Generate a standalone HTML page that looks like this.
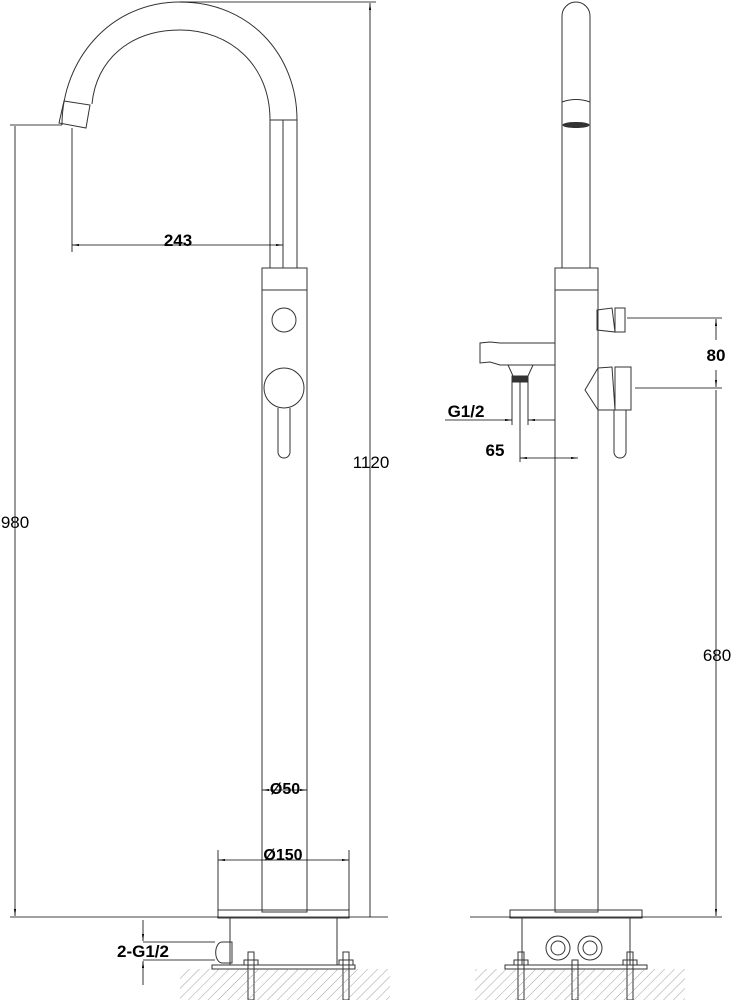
<!DOCTYPE html>
<html><head><style>body{margin:0;background:#fff}svg{display:block}text{font-family:"Liberation Sans",sans-serif;fill:#000}</style></head><body>
<svg width="734" height="1000" viewBox="0 0 734 1000" xmlns="http://www.w3.org/2000/svg">
<defs>
<pattern id="h" width="7" height="7" patternUnits="userSpaceOnUse" patternTransform="rotate(45)"><line x1="0" y1="0" x2="0" y2="7" stroke="#888" stroke-width="0.8"/></pattern>
<marker id="a" viewBox="0 0 10 10" refX="10" refY="5" markerWidth="9" markerHeight="9" orient="auto-start-reverse"><path d="M0,3.5L10,5L0,6.5z" fill="#000"/></marker>
</defs>
<g fill="none" stroke="#333" stroke-width="1">
<path d="M62,125 C62,60 110,2 180,2 C250,2 297,55 297,120"/>
<path d="M92,104 C96,60 130,30 180,30 C230,30 270,65 270,120"/>
<path d="M64,101 L90,105 L86,128 L59,123 Z"/>
<rect x="270" y="120" width="27" height="148"/>
<line x1="283" y1="120" x2="283" y2="268"/>
<rect x="262" y="268" width="45" height="644"/>
<line x1="262" y1="290" x2="307" y2="290"/>
<circle cx="284" cy="320" r="12"/>
<circle cx="284" cy="388" r="20"/>
<path d="M278,408 L278,452 A6,6 0 0 0 290,452 L290,408"/>
<rect x="218" y="910" width="131" height="8"/>
<rect x="230" y="918" width="107" height="47"/>
<path d="M222,942 h10 v21 h-10 a6,10 0 0 1 0,-21z"/>
<rect x="212" y="965" width="143" height="4"/>
<rect x="248" y="952" width="6" height="48"/><rect x="343" y="952" width="6" height="48"/>
<rect x="244" y="960" width="14" height="5"/><rect x="339" y="960" width="14" height="5"/>
<path d="M562,268 L562,16 A14,14 0 0 1 590,16 L590,268"/>
<path d="M562,102 Q576,97 590,102"/>
<ellipse cx="576" cy="125" rx="13" ry="2.5" fill="#333"/>
<rect x="555" y="268" width="43" height="644"/>
<line x1="555" y1="290" x2="598" y2="290"/>
<path d="M597,310 L612,308 L615,332 L597,330 Z"/><rect x="615" y="308" width="10" height="24"/>
<path d="M598,368 L612,367 L615,410 L598,410 L585,390 Z"/><rect x="615" y="367" width="16" height="43"/>
<path d="M614,410 L614,452 A6,6 0 0 0 626,452 L626,410"/>
<path d="M555,343 L500,343 L490,342 L480,343 L480,363 L490,362 L500,365 L555,365"/>
<path d="M508,365 L513,376 L528,376 L533,365"/>
<rect x="512" y="376" width="16" height="6" fill="#333"/>
<line x1="512" y1="382" x2="512" y2="425"/><line x1="528" y1="382" x2="528" y2="425"/><line x1="520" y1="382" x2="520" y2="462"/>
<rect x="510" y="910" width="132" height="8"/>
<rect x="522" y="918" width="108" height="47"/>
<circle cx="558" cy="948" r="12"/><circle cx="558" cy="948" r="7"/>
<circle cx="590" cy="948" r="12"/><circle cx="590" cy="948" r="7"/>
<rect x="505" y="965" width="142" height="4"/>
<rect x="518" y="952" width="6" height="48"/><rect x="572" y="960" width="6" height="40"/><rect x="627" y="952" width="6" height="48"/>
<rect x="514" y="960" width="14" height="5"/><rect x="623" y="960" width="14" height="5"/>
</g>
<rect x="180" y="969" width="210" height="31" fill="url(#h)"/>
<rect x="475" y="969" width="210" height="31" fill="url(#h)"/>
<g stroke="#000" stroke-width="0.8" fill="none">
<line x1="10" y1="917" x2="388" y2="917"/>
<line x1="470" y1="917" x2="722" y2="917"/>
<line x1="180" y1="2" x2="376" y2="2"/>
<line x1="370" y1="917" x2="370" y2="3" marker-end="url(#a)"/>
<line x1="10" y1="125" x2="62" y2="125"/>
<line x1="15" y1="126" x2="15" y2="916" marker-end="url(#a)"/>
<line x1="72" y1="128" x2="72" y2="252"/>
<line x1="72" y1="245" x2="283" y2="245" marker-start="url(#a)" marker-end="url(#a)"/>
<line x1="262" y1="790" x2="307" y2="790" marker-start="url(#a)" marker-end="url(#a)"/>
<line x1="218" y1="850" x2="218" y2="910"/><line x1="349" y1="850" x2="349" y2="910"/>
<line x1="218" y1="860" x2="349" y2="860" marker-start="url(#a)" marker-end="url(#a)"/>
<line x1="143" y1="942" x2="215" y2="942"/><line x1="143" y1="960" x2="215" y2="960"/>
<line x1="143" y1="920" x2="143" y2="941" marker-end="url(#a)"/>
<line x1="143" y1="985" x2="143" y2="961" marker-end="url(#a)"/>
<line x1="627" y1="318" x2="722" y2="318"/><line x1="635" y1="388" x2="722" y2="388"/>
<line x1="716" y1="340" x2="716" y2="319" marker-end="url(#a)"/>
<line x1="716" y1="370" x2="716" y2="387" marker-end="url(#a)"/>
<line x1="716" y1="390" x2="716" y2="916" marker-end="url(#a)"/>
<line x1="445" y1="420" x2="512" y2="420" marker-end="url(#a)"/>
<line x1="528" y1="420" x2="555" y2="420" marker-start="url(#a)"/>
<line x1="520" y1="458" x2="578" y2="458" marker-start="url(#a)" marker-end="url(#a)"/>
</g>
<text x="178" y="246" font-size="17" font-weight="bold" text-anchor="middle">243</text>
<text x="371" y="468" font-size="17" text-anchor="middle">1120</text>
<text x="15" y="528" font-size="17" text-anchor="middle">980</text>
<text x="285" y="794" font-size="16" font-weight="bold" text-anchor="middle">Ø50</text>
<text x="283" y="860" font-size="16" font-weight="bold" text-anchor="middle">Ø150</text>
<text x="143" y="957" font-size="17" font-weight="bold" text-anchor="middle">2-G1/2</text>
<text x="716" y="361" font-size="17" font-weight="bold" text-anchor="middle">80</text>
<text x="717" y="661" font-size="17" text-anchor="middle">680</text>
<text x="466" y="417" font-size="17" font-weight="bold" text-anchor="middle">G1/2</text>
<text x="495" y="456" font-size="17" font-weight="bold" text-anchor="middle">65</text>
</svg>
</body></html>
